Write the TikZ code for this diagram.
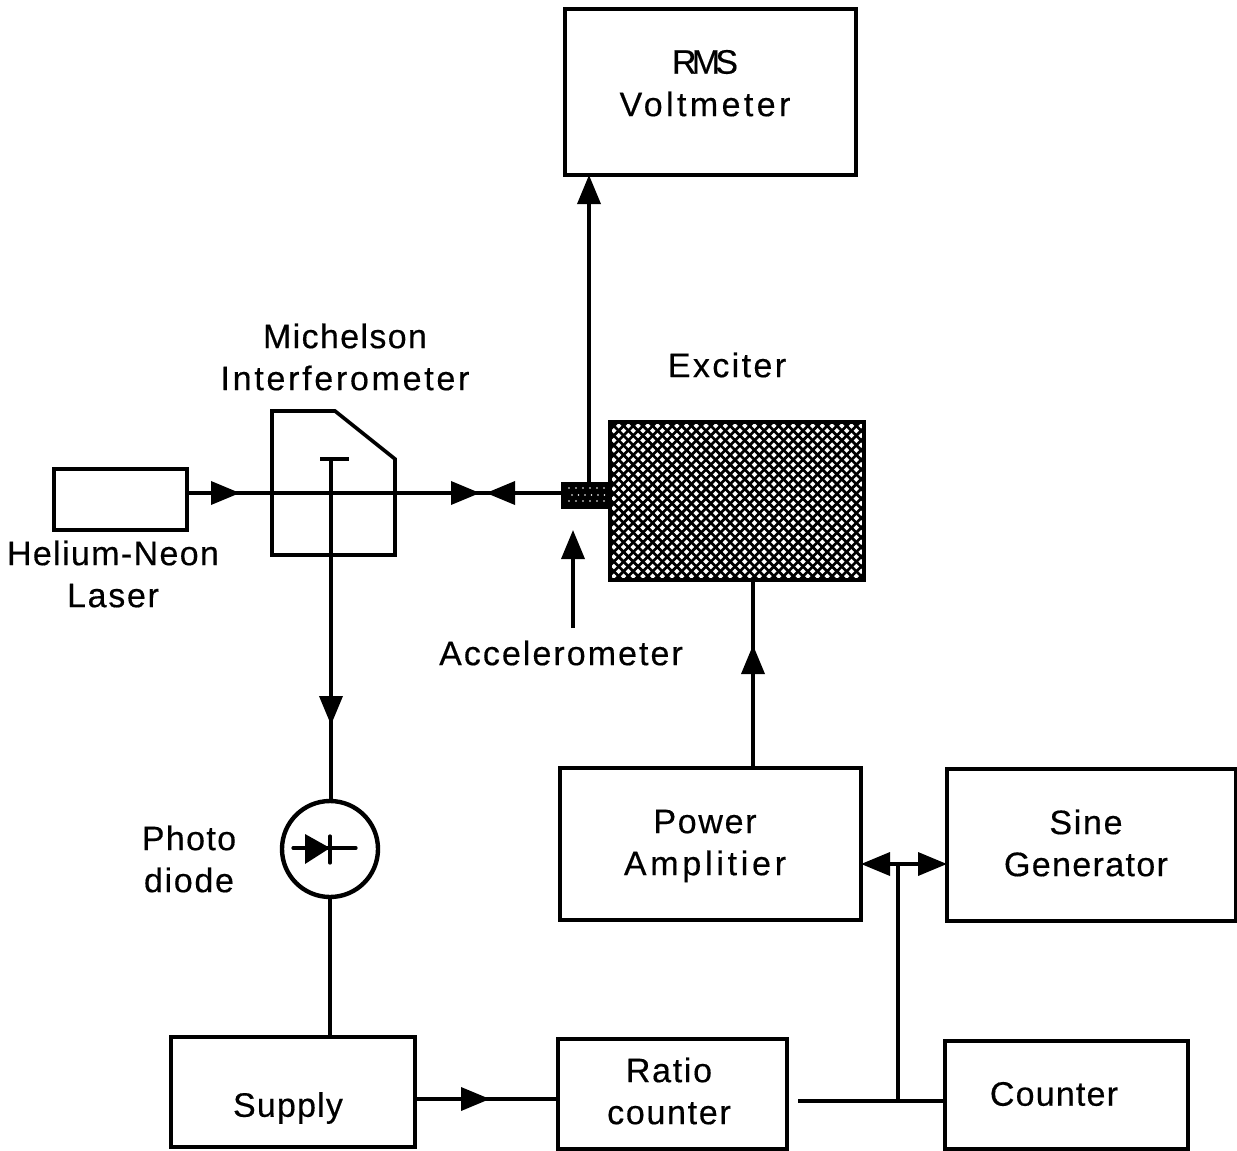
\documentclass[tikz,border=0pt]{standalone}
\usepackage{fontspec}
\setmainfont[LetterSpace=5,FakeBold=0.4]{Liberation Sans}
\newfontfamily\tightfont[LetterSpace=-14,FakeBold=0.4]{Liberation Sans}
\newcommand{\ls}[2]{{\addfontfeature{LetterSpace=#1}#2}}
\usetikzlibrary{arrows.meta,positioning}
\tikzset{
  x=1pt,y=-1pt,
  boxnode/.style={draw=black,line width=3.6pt,fill=white,inner sep=0pt,outer sep=0pt,rectangle},
  lbl/.style={inner sep=0pt,align=center,font=\fontsize{34}{42}\selectfont,text=black},
  conn/.style={draw=black,line width=3.6pt},
  headed/.style={draw=black,line width=3.6pt,-{Triangle[length=29pt,width=23pt,sep=0pt]}},
  hatchline/.style={draw=black,line width=2.7pt},
}
\newcommand{\bx}[6]{\node[boxnode,minimum width=#4pt-#2pt,minimum height=#5pt-#3pt] (#1) at ({(#2+#4)/2},{(#3+#5)/2}) {#6};}
\begin{document}
\begin{tikzpicture}
\useasboundingbox[fill=white] (0,0) rectangle (1237,1151);
% boxes
\bx{rms}{565}{9}{856}{175}{}
\bx{laser}{54}{469}{187}{530}{}
\bx{exciter}{610}{422}{864}{580}{}
\bx{power}{560}{768}{861}{920}{}
\bx{sine}{947}{769}{1236}{921}{}
\bx{supply}{171}{1037}{415}{1147}{}
\bx{ratio}{558}{1039}{787}{1149}{}
\bx{counter}{945}{1041}{1188}{1149}{}
\node[draw=black,line width=4.4pt,fill=white,circle,minimum size=96pt,inner sep=0pt,outer sep=0pt] (pd) at (330,849) {};
% exciter cross-hatch
\begin{scope}
  \clip (exciter.south west) rectangle (exciter.north east);
  \foreach \k in {-17,...,27}{
    \draw[hatchline] ({610+\k*9.7},422) -- ++(160,160);
    \draw[hatchline] ({610+\k*9.7+4.85},580) -- ++(160,-160);
  }
\end{scope}
\node[draw=black,line width=4pt,minimum width=254pt,minimum height=158pt,inner sep=0pt,outer sep=0pt] (exciterframe) at (exciter.center) {};
% accelerometer
\node[fill=black,draw=black,line width=1pt,minimum width=49pt,minimum height=26pt,inner sep=0pt,outer sep=0pt] (acc) at (586,495.5) {};
\foreach \i in {0,...,5}{
  \fill[white] ({569+\i*7},488) circle (0.9);
  \fill[white] ({572+\i*6.5},495) circle (0.9);
  \fill[white] ({569+\i*7},501) circle (0.9);
}
% interferometer
\draw[conn,line join=miter] (272,411) coordinate (mitl) -- (335,411) -- (395,459) -- (395,555) coordinate (mibr) -- (272,555) -- cycle;
\coordinate (tbar) at (331,459);
\draw[conn] (320,459) -- (349,459);
% beam
\coordinate (b1) at (240,493);
\coordinate (b2) at (480,493);
\coordinate (b3) at (486,493);
\draw[conn] (laser.east |- b1) -- (acc.west |- b1);
\draw[headed] (211,493) -- (b1);
\draw[headed] (451,493) -- (b2);
\draw[headed] (515,493) -- (b3);
% accelerometer to voltmeter
\draw[headed] (589,0 |- acc.north) -- (589,0 |- rms.south);
% accelerometer pointer
\coordinate (acctail) at (573,628);
\draw[headed] (acctail) -- (573,530);
% interferometer to photodiode
\coordinate (pdarrow) at (331,725);
\draw[conn] (tbar) -- (331,0 |- pd.north);
\draw[headed] (331,696) -- (pdarrow);
\draw[conn] (330,0 |- pd.south) -- (330,0 |- supply.north);
% diode
\coordinate (dleft) at (293,848);
\coordinate (dright) at (356,848);
\draw[line width=3.2pt,line cap=round] (dleft) -- (dright);
\fill[black] (305,834) -- (330,848) -- (305,864) -- cycle;
\draw[line width=3.2pt,line cap=round] (330,836) -- (330,863);
% amp to exciter
\coordinate (amparrow) at (753,645);
\draw[conn] (753,0 |- power.north) -- (753,0 |- exciter.south);
\draw[headed] (753,675) -- (amparrow);
% supply to ratio
\coordinate (sarrow) at (490,1099);
\draw[conn] (supply.east |- sarrow) -- (ratio.west |- sarrow);
\draw[headed] (461,1099) -- (sarrow);
% ratio to counter
\coordinate (rfree) at (798,1101);
\coordinate (jn) at (898,1101);
\draw[conn] (rfree) -- (counter.west |- rfree);
\coordinate (jtop) at (898,864);
\draw[conn] (jn) -- (jtop);
\draw[headed] (jtop) -- (power.east |- jtop);
\draw[headed] (jtop) -- (sine.west |- jtop);
% labels
\node[lbl] (trms) at (705,62) {\tightfont RMS};
\node[lbl] (tvolt) at (705,104) {\ls{10}{Voltmeter}};
\node[lbl] (tmich) at (345,357) {\ls{4}{Michelson}\\\ls{8}{Interferometer}};
\node[lbl] (texc) at (727,365) {\ls{7}{Exciter}};
\node[lbl] (the) at (113,574) {\ls{4}{Helium-Neon}\\Laser};
\node[lbl] (tacc) at (561,653) {\ls{6}{Accelerometer}};
\node[lbl] (tpd) at (189,859) {\ls{4}{Photo}\\diode};
\node[lbl] (tpow) at (705,846) {Power\\\ls{11}{Amplitier}};
\node[lbl] (tsine) at (1086,843) {Sine\\\ls{4}{Generator}};
\node[lbl] (tsup) at (288,1108) {\ls{3.5}{Supply}};
\node[lbl] (trat) at (669,1091) {Ratio\\counter};
\node[lbl] (tcnt) at (1054,1094) {\ls{3.5}{Counter}};
\end{tikzpicture}
\end{document}
